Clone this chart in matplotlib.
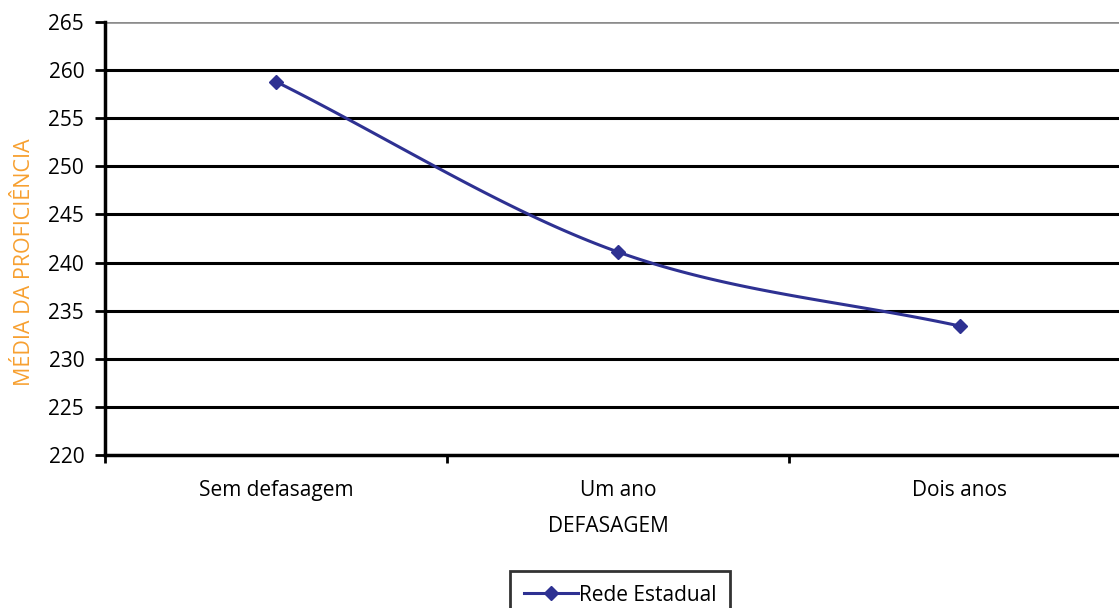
import numpy as np
import matplotlib.pyplot as plt
from matplotlib.lines import Line2D

# Dados do gráfico
categorias = ['Sem defasagem', 'Um ano', 'Dois anos']
media_rede_estadual = [258.8, 241.1, 233.4]
yticks = list(range(220, 266, 5))

plt.rcParams['font.family'] = ['Open Sans', 'DejaVu Sans']

cor_linha = '#2E3192'
cor_rotulo = '#F7A030'


def catmull_rom(x, y, n=60):
    # curva suavizada entre os pontos (como a linha suavizada do Excel)
    px = np.concatenate([[2 * x[0] - x[1]], x, [2 * x[-1] - x[-2]]])
    py = np.concatenate([[2 * y[0] - y[1]], y, [2 * y[-1] - y[-2]]])
    xs, ys = [], []
    t = np.linspace(0, 1, n)
    for i in range(1, len(px) - 2):
        for p, out in ((px, xs), (py, ys)):
            p0, p1, p2, p3 = p[i - 1], p[i], p[i + 1], p[i + 2]
            out.extend(0.5 * ((2 * p1) + (-p0 + p2) * t
                              + (2 * p0 - 5 * p1 + 4 * p2 - p3) * t ** 2
                              + (-p0 + 3 * p1 - 3 * p2 + p3) * t ** 3))
    return np.array(xs), np.array(ys)


W, H = 1119, 608
fig = plt.figure(figsize=(W / 100, H / 100), dpi=100)
ax = fig.add_axes([105 / W, (H - 455) / H, (1131 - 105) / W, (455 - 22) / H])

x = np.arange(len(categorias), dtype=float)
y = np.array(media_rede_estadual)
xs, ys = catmull_rom(x, y)
ax.plot(xs, ys, color=cor_linha, lw=2.2, zorder=3)
ax.plot(x, y, ls='none', marker='D', ms=7, color=cor_linha, zorder=4)

ax.set_xlim(-0.5, len(categorias) - 0.5)
ax.set_ylim(220, 265)
ax.set_yticks(yticks)
ax.set_xticks(x)
ax.set_xticklabels(categorias)
ax.set_xticks(np.arange(-0.5, len(categorias), 1), minor=True)
ax.tick_params(axis='x', which='major', length=0, pad=18, labelsize=15)
ax.tick_params(axis='x', which='minor', length=6, width=2, direction='out', color='black')
ax.tick_params(axis='y', length=7, width=2, direction='out', labelsize=15, pad=8)

for v in yticks[1:-1]:
    ax.axhline(v, color='black', lw=2.2, zorder=1)
ax.axhline(265, color='#8C8C8C', lw=2.6, zorder=1)

for s in ['top', 'right']:
    ax.spines[s].set_visible(False)
ax.spines['left'].set_linewidth(2.5)
ax.spines['bottom'].set_linewidth(2.5)

fig.text(608 / W, 1 - 526 / H, 'DEFASAGEM', ha='center', va='center', fontsize=15)
fig.text(25 / W, 1 - 262 / H, 'MÉDIA DA PROFICIÊNCIA', ha='center', va='center',
         rotation=90, fontsize=15.5, color=cor_rotulo)

handle = Line2D([], [], color=cor_linha, lw=2.2, marker='D', ms=7)
leg = fig.legend([handle], ['Rede Estadual'], loc='upper center',
                 bbox_to_anchor=(620 / W, 1 - 571 / H), borderaxespad=0,
                 fontsize=15, frameon=True, fancybox=False, edgecolor='black',
                 handlelength=2.6, handletextpad=0.05, borderpad=0.65)
leg.get_frame().set_linewidth(2)

fig.savefig('out.png', dpi=100)
